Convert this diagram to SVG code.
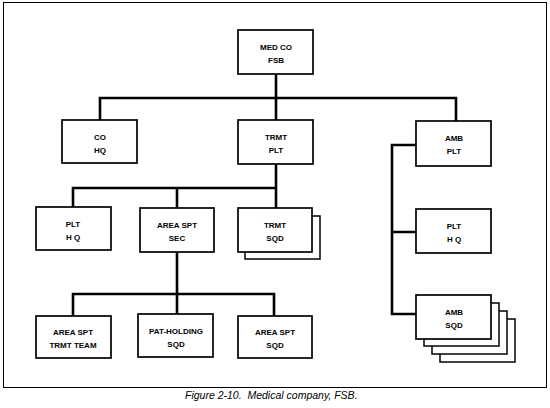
<svg xmlns="http://www.w3.org/2000/svg" width="550" height="408" viewBox="0 0 550 408">
<style>
.box{fill:#fff;stroke:#000;stroke-width:1.7}
.sh{fill:#fff;stroke:#000;stroke-width:1.5}
.t{font-family:"Liberation Sans",Arial,sans-serif;font-weight:bold;font-size:8px;text-anchor:middle;fill:#000}
.c{fill:none;stroke:#000;stroke-width:2.6}
.cap{font-family:"Liberation Sans",Arial,sans-serif;font-style:italic;font-size:10.5px;fill:#000}
</style>
<rect x="3.5" y="2.5" width="543" height="385" fill="#fff" stroke="#000" stroke-width="1"/>
<g id="connectors">
<path class="c" d="M276 74V98M100 120V98H456V121M276 98V120"/>
<path class="c" d="M276 164V188H73V207M177 188V208M276 188V208"/>
<path class="c" d="M177 252V314M73 316V294H274V316"/>
<path class="c" d="M416 145H392V314H416M392 232H416"/>
</g>
<g id="medco"><rect class="box" x="238" y="30" width="75" height="44"/><text class="t" x="276" y="50">MED CO</text><text class="t" x="276" y="63">FSB</text></g>
<g id="coHq"><rect class="box" x="62" y="120" width="75" height="43"/><text class="t" x="100" y="140">CO</text><text class="t" x="100" y="153">HQ</text></g>
<g id="trmtPlt"><rect class="box" x="238" y="120" width="75" height="44"/><text class="t" x="276" y="140">TRMT</text><text class="t" x="276" y="153">PLT</text></g>
<g id="ambPlt"><rect class="box" x="416" y="121" width="75" height="45"/><text class="t" x="454" y="141">AMB</text><text class="t" x="454" y="154">PLT</text></g>
<g id="pltHq1"><rect class="box" x="36" y="207" width="75" height="43"/><text class="t" x="73" y="227">PLT</text><text class="t" x="73" y="240">H Q</text></g>
<g id="areaSptSec"><rect class="box" x="140" y="208" width="74" height="44"/><text class="t" x="177" y="228">AREA SPT</text><text class="t" x="177" y="241">SEC</text></g>
<g id="trmtSqd"><rect class="sh" x="245" y="216" width="75" height="43"/><rect class="box" x="238" y="208" width="74" height="44"/><text class="t" x="275" y="228">TRMT</text><text class="t" x="275" y="241">SQD</text></g>
<g id="pltHq2"><rect class="box" x="416" y="209" width="75" height="44"/><text class="t" x="454" y="229">PLT</text><text class="t" x="454" y="242">H Q</text></g>
<g id="areaSptTeam"><rect class="box" x="36" y="316" width="75" height="42"/><text class="t" x="73" y="335">AREA SPT</text><text class="t" x="73" y="348">TRMT TEAM</text></g>
<g id="patHolding"><rect class="box" x="138" y="314" width="75" height="43"/><text class="t" x="176" y="334">PAT-HOLDING</text><text class="t" x="176" y="347">SQD</text></g>
<g id="areaSptSqd"><rect class="box" x="238" y="316" width="74" height="42"/><text class="t" x="275" y="335">AREA SPT</text><text class="t" x="275" y="348">SQD</text></g>
<g id="ambSqd">
<rect class="sh" x="440" y="319" width="75" height="43"/>
<rect class="sh" x="432" y="311" width="75" height="43"/>
<rect class="sh" x="424" y="303" width="75" height="43"/>
<rect class="box" x="416" y="295" width="75" height="44"/>
<text class="t" x="454" y="315">AMB</text><text class="t" x="454" y="328">SQD</text>
</g>
<text class="cap" x="185" y="399" xml:space="preserve">Figure 2-10.  Medical company, FSB.</text>
</svg>
